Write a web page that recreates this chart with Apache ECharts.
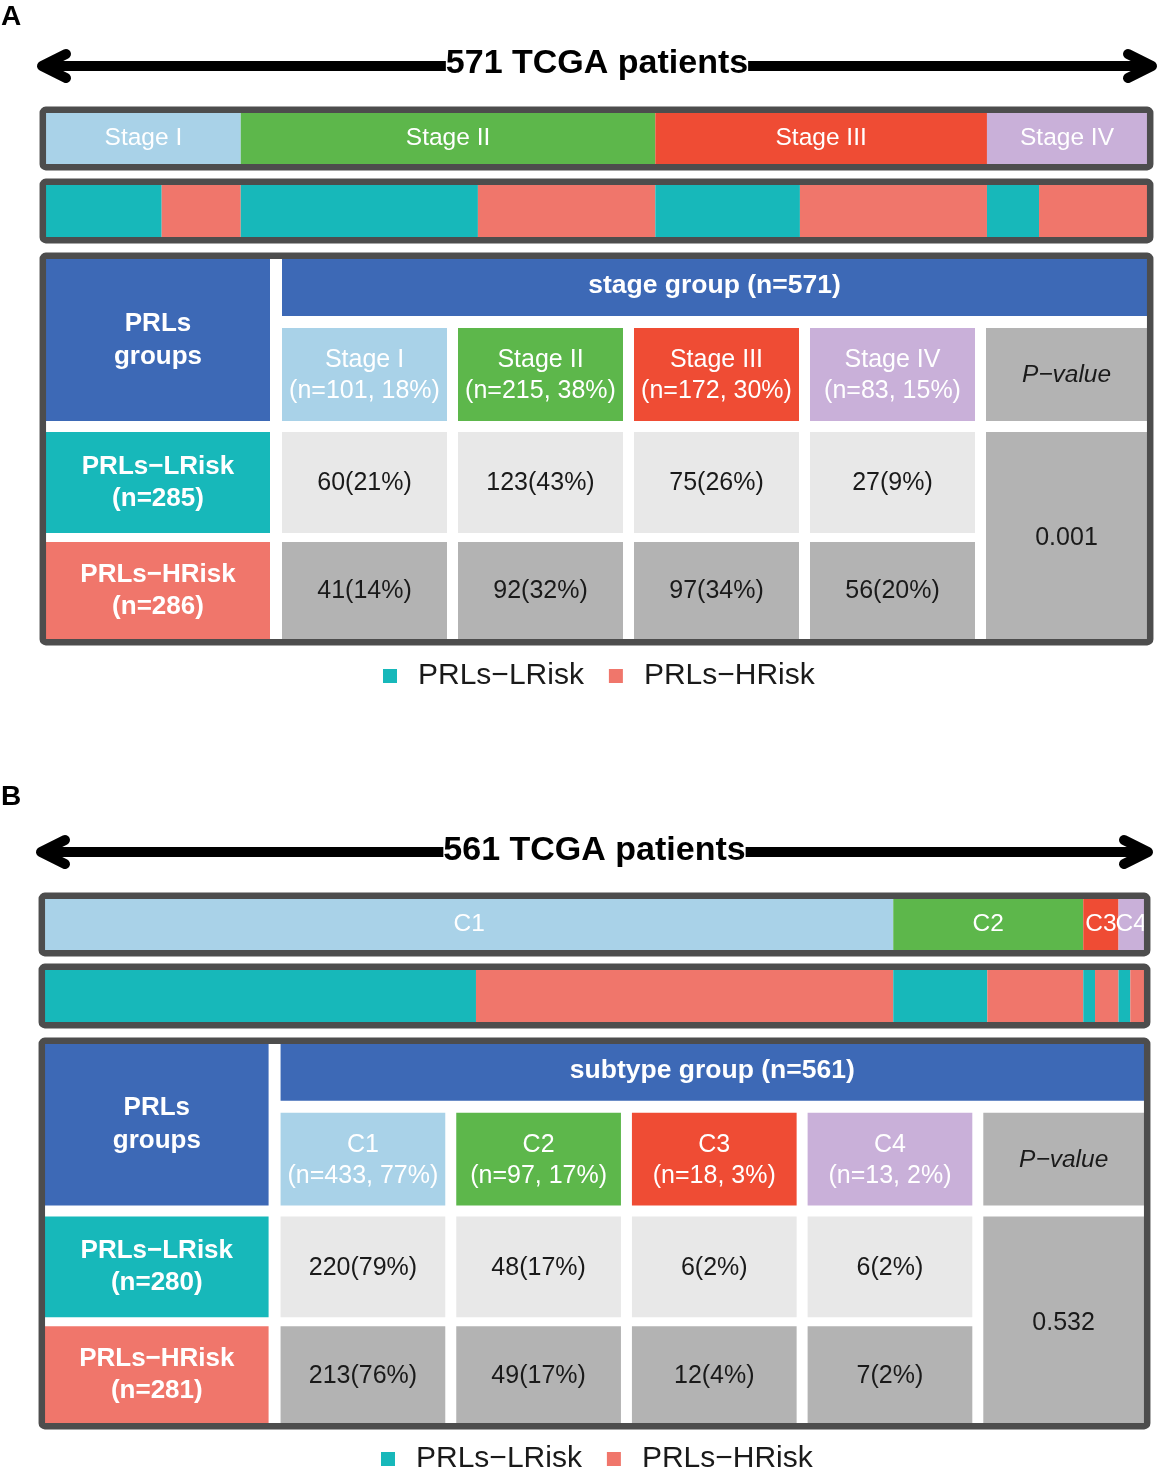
<!DOCTYPE html>
<html><head><meta charset="utf-8">
<script src="https://cdn.jsdelivr.net/npm/echarts@6/dist/echarts.min.js"></script>
<style>html,body{margin:0;padding:0;background:#fff}#c{width:1161px;height:1475px}</style>
</head><body><div id="c"></div>
<script>
// ---------------- data ----------------
const stageCategories = ['Stage I', 'Stage II', 'Stage III', 'Stage IV'];
const stageTotals = [101, 215, 172, 83];
const stageTotalPct = ['18%', '38%', '30%', '15%'];
const stageLowRisk = [60, 123, 75, 27];
const stageLowRiskPct = ['21%', '43%', '26%', '9%'];
const stageHighRisk = [41, 92, 97, 56];
const stageHighRiskPct = ['14%', '32%', '34%', '20%'];
const stagePatients = 571;
const stageLowN = 285;
const stageHighN = 286;
const stagePValue = '0.001';

const subtypeCategories = ['C1', 'C2', 'C3', 'C4'];
const subtypeTotals = [433, 97, 18, 13];
const subtypeTotalPct = ['77%', '17%', '3%', '2%'];
const subtypeLowRisk = [220, 48, 6, 6];
const subtypeLowRiskPct = ['79%', '17%', '2%', '2%'];
const subtypeHighRisk = [213, 49, 12, 7];
const subtypeHighRiskPct = ['76%', '17%', '4%', '2%'];
const subtypePatients = 561;
const subtypeLowN = 280;
const subtypeHighN = 281;
const subtypePValue = '0.532';

const riskNames = ['PRLs\u2212LRisk', 'PRLs\u2212HRisk'];

// ---------------- style / layout ----------------
const FONT = "'Liberation Sans', Arial, Helvetica, sans-serif";
const catColors = ['#a9d2e8', '#5db74b', '#ef4c34', '#c9b0d9'];
const riskColors = ['#17b8ba', '#f0766b'];
const headBlue = '#3d69b6';
const lightCell = '#e8e8e8';
const darkCell = '#b3b3b3';
const frameColor = '#4d4d4d';
const textDark = '#1a1a1a';

// table layout units (width 1101, height 380)
const TABLE_W = 1101, TABLE_H = 380;
const colEdges = [[0, 224], [236, 401], [412, 577], [588, 753], [764, 929], [940, 1101]];
const rowEdges = [[0, 57], [69, 162], [173, 274], [283, 380]];

const panelA = {
  letter: 'A', letterY: 17.5,
  arrowY: 66, arrowX0: 42, arrowX1: 1152, arrowTextY: 63.5,
  x0: 46, x1: 1147,
  bar1: [113, 164], bar2: [185, 237], table: [259, 639],
  legendTop: 661, legendLeft: 383
};
const panelB = {
  letter: 'B', letterY: 797.5,
  arrowY: 852, arrowX0: 41, arrowX1: 1148, arrowTextY: 850.5,
  x0: 45, x1: 1144,
  bar1: [899, 950], bar2: [970, 1022], table: [1044, 1423],
  legendTop: 1444, legendLeft: 381
};

const opt = {
  animation: false,
  backgroundColor: '#fff',
  textStyle: { fontFamily: FONT },
  grid: [], xAxis: [], yAxis: [], series: [], legend: [],
  graphic: { elements: [] }
};

function buildPanel(p, idx, d) {
  const g0 = idx * 3;
  const w = p.x1 - p.x0;
  opt.grid.push({ left: p.x0, top: p.bar1[0], width: w, height: p.bar1[1] - p.bar1[0] });
  opt.grid.push({ left: p.x0, top: p.bar2[0], width: w, height: p.bar2[1] - p.bar2[0] });
  opt.grid.push({ left: p.x0, top: p.table[0], width: w, height: p.table[1] - p.table[0] });
  for (let k = 0; k < 2; k++) {
    opt.xAxis.push({ type: 'value', gridIndex: g0 + k, min: 0, max: d.patients, show: false });
    opt.yAxis.push({ type: 'category', gridIndex: g0 + k, data: ['all'], show: false });
  }
  opt.xAxis.push({ type: 'value', gridIndex: g0 + 2, min: 0, max: TABLE_W, show: false });
  opt.yAxis.push({ type: 'value', gridIndex: g0 + 2, min: 0, max: TABLE_H, inverse: true, show: false });

  // bar 1 : category composition
  d.cats.forEach((c, i) => {
    opt.series.push({
      type: 'bar', name: c, stack: 'top' + idx, xAxisIndex: g0, yAxisIndex: g0,
      data: [d.totals[i]], barWidth: '100%', silent: true,
      itemStyle: { color: catColors[i] },
      label: { show: true, position: 'inside', formatter: c, color: '#fff', fontSize: 24.5, fontFamily: FONT }
    });
  });
  // bar 2 : risk split within each category
  d.cats.forEach((c, i) => {
    [d.low[i], d.high[i]].forEach((v, r) => {
      opt.series.push({
        type: 'bar', name: riskNames[r], stack: 'risk' + idx, xAxisIndex: g0 + 1, yAxisIndex: g0 + 1,
        data: [v], barWidth: '100%', silent: true,
        itemStyle: { color: riskColors[r] }
      });
    });
  });

  // table cells
  const cells = [];
  cells.push({ c: [0, 0], r: [0, 1], fill: headBlue, text: 'PRLs\ngroups', color: '#fff', weight: 'bold', size: 26, lh: 33 });
  cells.push({ c: [1, 5], r: [0, 0], fill: headBlue, text: d.groupTitle + ' (n=' + d.patients + ')', color: '#fff', weight: 'bold', size: 26.5, lh: 30, dy: -2 });
  d.cats.forEach((c, i) => cells.push({ c: [i + 1, i + 1], r: [1, 1], fill: catColors[i], text: c + '\n(n=' + d.totals[i] + ', ' + d.totalPct[i] + ')', color: '#fff', weight: 'normal', size: 25, lh: 31, dy: 1.5 }));
  cells.push({ c: [5, 5], r: [1, 1], fill: darkCell, text: 'P\u2212value', color: textDark, weight: 'normal', style: 'italic', size: 24.5, lh: 30, dy: 1 });
  cells.push({ c: [0, 0], r: [2, 2], fill: riskColors[0], text: riskNames[0] + '\n(n=' + d.lowN + ')', color: '#fff', weight: 'bold', size: 26, lh: 32 });
  cells.push({ c: [0, 0], r: [3, 3], fill: riskColors[1], text: riskNames[1] + '\n(n=' + d.highN + ')', color: '#fff', weight: 'bold', size: 26, lh: 32 });
  d.low.forEach((v, i) => cells.push({ c: [i + 1, i + 1], r: [2, 2], fill: lightCell, text: v + '(' + d.lowPct[i] + ')', color: textDark, weight: 'normal', size: 25, lh: 30, dy: 1 }));
  d.high.forEach((v, i) => cells.push({ c: [i + 1, i + 1], r: [3, 3], fill: darkCell, text: v + '(' + d.highPct[i] + ')', color: textDark, weight: 'normal', size: 25, lh: 30, dy: 1 }));
  cells.push({ c: [5, 5], r: [2, 3], fill: darkCell, text: d.pValue, color: textDark, weight: 'normal', size: 25, lh: 30, dy: 3 });

  opt.series.push({
    type: 'custom', xAxisIndex: g0 + 2, yAxisIndex: g0 + 2, silent: true,
    data: cells.map(cl => [cl.c[0], cl.r[0]]),
    renderItem: function (params, api) {
      const cl = cells[params.dataIndex];
      const a = api.coord([colEdges[cl.c[0]][0], rowEdges[cl.r[0]][0]]);
      const b = api.coord([colEdges[cl.c[1]][1], rowEdges[cl.r[1]][1]]);
      const x = Math.min(a[0], b[0]), y = Math.min(a[1], b[1]);
      const rw = Math.abs(b[0] - a[0]), rh = Math.abs(b[1] - a[1]);
      return {
        type: 'group', children: [
          { type: 'rect', shape: { x: x, y: y, width: rw, height: rh }, style: { fill: cl.fill } },
          { type: 'text', style: {
              text: cl.text, x: x + rw / 2, y: y + rh / 2 + (cl.dy || 0), align: 'center', verticalAlign: 'middle',
              fill: cl.color, fontSize: cl.size, fontWeight: cl.weight, fontStyle: cl.style || 'normal',
              fontFamily: FONT, lineHeight: cl.lh } }
        ]
      };
    }
  });

  // legend
  opt.legend.push({
    data: riskNames, left: p.legendLeft, top: p.legendTop, icon: 'rect', padding: 0,
    itemWidth: 14, itemHeight: 14, itemGap: 25, selectedMode: false,
    textStyle: { fontSize: 30, fontFamily: FONT, color: textDark, padding: [0, 0, 0, 16] }
  });

  // decorations
  const E = opt.graphic.elements;
  E.push({ type: 'text', z: 100, style: { text: p.letter, x: 1, y: p.letterY, fontSize: 28, fontWeight: 'bold', fontFamily: FONT, fill: '#000', verticalAlign: 'middle' } });
  E.push({ type: 'line', z: 100, shape: { x1: p.arrowX0, y1: p.arrowY, x2: p.arrowX1, y2: p.arrowY }, style: { stroke: '#000', lineWidth: 10 } });
  E.push({ type: 'polyline', z: 100, shape: { points: [[p.arrowX0 + 24, p.arrowY - 12], [p.arrowX0, p.arrowY], [p.arrowX0 + 24, p.arrowY + 12]] }, style: { stroke: '#000', lineWidth: 10, lineCap: 'round', lineJoin: 'round', fill: 'none' } });
  E.push({ type: 'polyline', z: 100, shape: { points: [[p.arrowX1 - 24, p.arrowY - 12], [p.arrowX1, p.arrowY], [p.arrowX1 - 24, p.arrowY + 12]] }, style: { stroke: '#000', lineWidth: 10, lineCap: 'round', lineJoin: 'round', fill: 'none' } });
  E.push({ type: 'text', z: 101, x: (p.arrowX0 + p.arrowX1) / 2, y: p.arrowTextY, style: { text: d.patients + ' TCGA patients', align: 'center', verticalAlign: 'middle', fontSize: 34, fontWeight: 'bold', fontFamily: FONT, fill: '#000', backgroundColor: '#fff', padding: [2, 0] } });
  [[p.bar1[0], p.bar1[1]], [p.bar2[0], p.bar2[1]], [p.table[0], p.table[1]]].forEach(([t, bt]) => {
    E.push({ type: 'rect', z: 100, shape: { x: p.x0 - 3.2, y: t - 3.2, width: w + 6.4, height: bt - t + 6.4, r: 3 }, style: { fill: 'none', stroke: frameColor, lineWidth: 6.5 } });
  });
}

buildPanel(panelA, 0, {
  cats: stageCategories, totals: stageTotals, totalPct: stageTotalPct,
  low: stageLowRisk, lowPct: stageLowRiskPct, high: stageHighRisk, highPct: stageHighRiskPct,
  patients: stagePatients, lowN: stageLowN, highN: stageHighN, pValue: stagePValue, groupTitle: 'stage group'
});
buildPanel(panelB, 1, {
  cats: subtypeCategories, totals: subtypeTotals, totalPct: subtypeTotalPct,
  low: subtypeLowRisk, lowPct: subtypeLowRiskPct, high: subtypeHighRisk, highPct: subtypeHighRiskPct,
  patients: subtypePatients, lowN: subtypeLowN, highN: subtypeHighN, pValue: subtypePValue, groupTitle: 'subtype group'
});

const chart = echarts.init(document.getElementById('c'), null, { renderer: 'canvas' });
chart.setOption(opt);
</script>
</body></html>
